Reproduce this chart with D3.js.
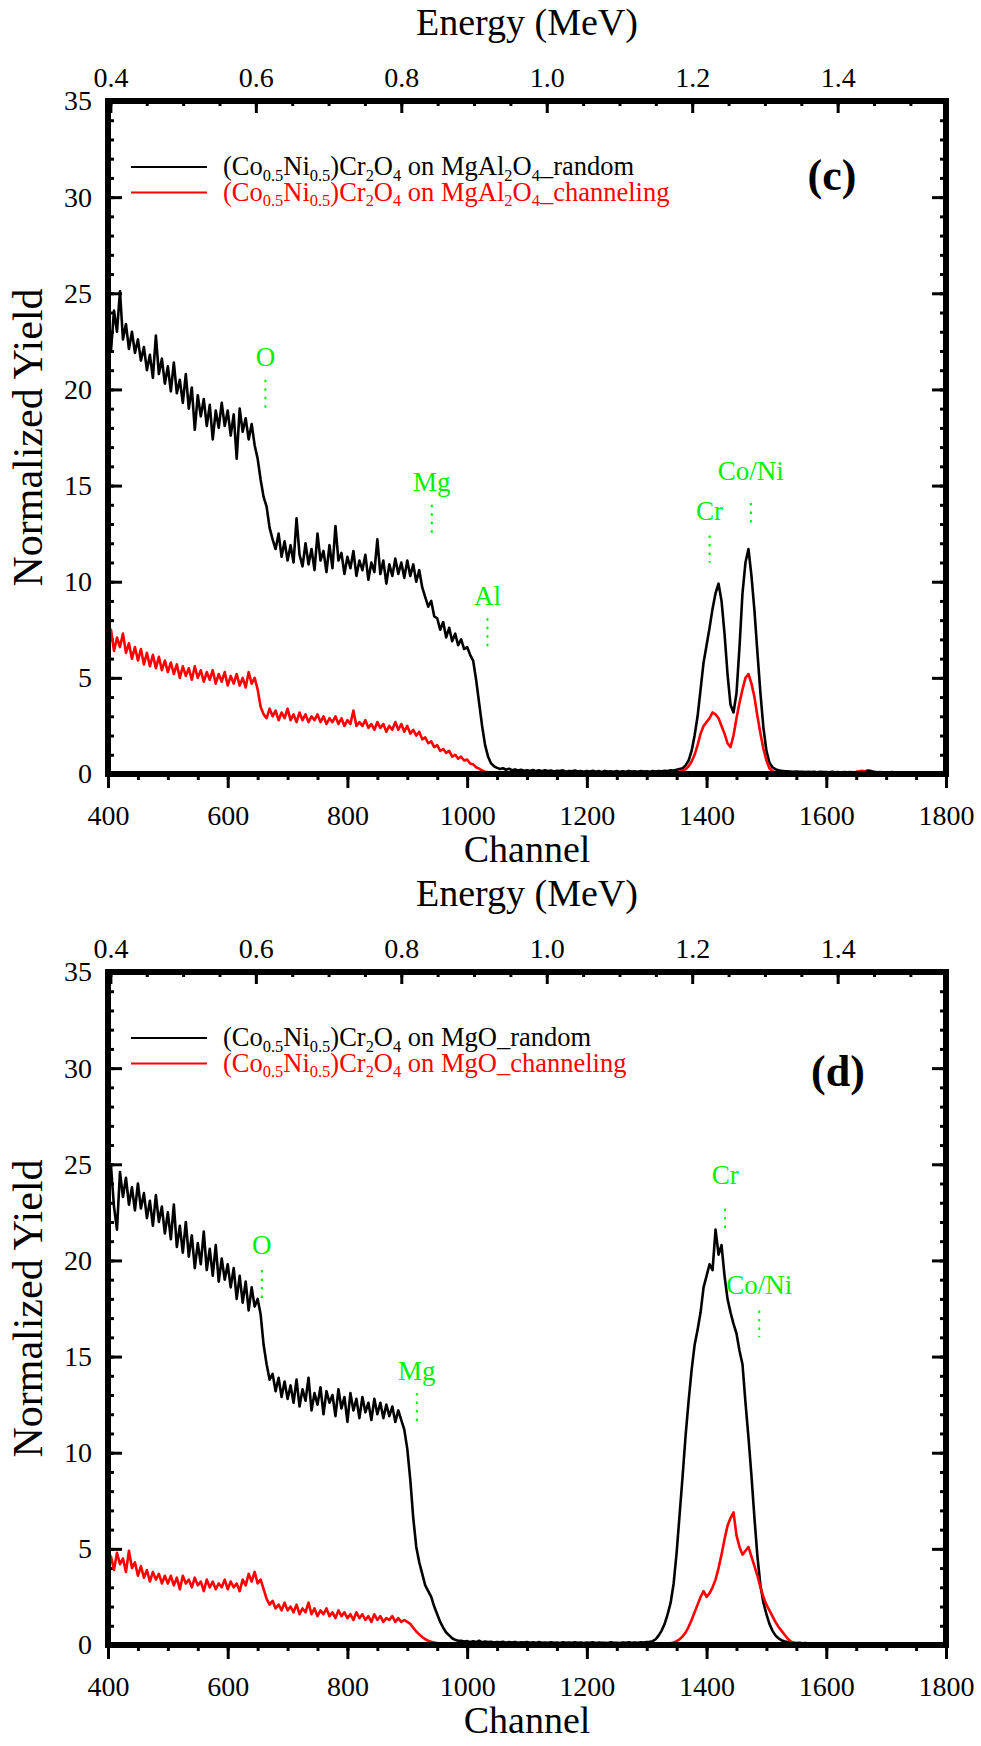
<!DOCTYPE html>
<html>
<head>
<meta charset="utf-8">
<script src="https://cdn.jsdelivr.net/npm/d3@7"></script>
<style>
  body { margin: 0; background: #fff; }
  svg { display: block; }
</style>
</head>
<body>
<div id="chart"></div>
<script>
// channels are sampled every 5 from 400 to 1800
const channelStart = 400, channelStep = 5;

const cRandom = [
  23.2, 22.0, 24.1, 23.0, 25.1, 22.6, 23.4, 22.1, 23.0, 21.9, 22.6, 21.5, 22.2, 21.0, 21.8, 20.6, 22.8, 20.8, 21.6, 20.3,
  21.2, 19.9, 21.4, 19.8, 20.5, 19.3, 20.8, 19.0, 20.1, 17.9, 19.7, 18.6, 19.5, 18.1, 19.2, 17.4, 18.9, 18.0, 19.3, 18.1,
  18.9, 17.6, 18.7, 16.4, 19.0, 17.8, 18.5, 17.4, 18.2, 17.1, 16.4, 15.3, 14.4, 13.9, 12.8, 12.2, 11.7, 12.5, 11.3, 12.1,
  11.1, 11.9, 11.0, 13.3, 11.4, 10.8, 12.0, 10.9, 11.7, 10.6, 12.5, 11.1, 11.6, 10.5, 11.9, 10.7, 12.9, 11.1, 11.5, 10.4,
  11.3, 10.7, 11.6, 10.3, 11.1, 10.6, 11.4, 10.1, 11.0, 10.5, 12.2, 10.4, 11.1, 9.9, 10.9, 10.3, 11.2, 10.4, 11.0, 10.2,
  11.1, 10.3, 10.9, 10.0, 10.6, 9.7, 9.2, 8.7, 9.0, 8.2, 8.1, 7.5, 7.9, 7.1, 7.6, 6.9, 7.3, 6.7, 7.0, 6.5,
  6.6, 6.2, 5.9, 4.9, 3.7, 2.5, 1.5, 0.9, 0.55, 0.4, 0.32, 0.26, 0.3, 0.22, 0.27, 0.2, 0.24, 0.18, 0.22, 0.17,
  0.2, 0.16, 0.21, 0.15, 0.19, 0.14, 0.2, 0.16, 0.18, 0.13, 0.17, 0.15, 0.19, 0.12, 0.16, 0.14, 0.18, 0.13, 0.15, 0.12,
  0.16, 0.13, 0.17, 0.12, 0.15, 0.11, 0.16, 0.13, 0.14, 0.12, 0.15, 0.11, 0.14, 0.12, 0.16, 0.13, 0.14, 0.12, 0.15, 0.13,
  0.14, 0.12, 0.15, 0.13, 0.16, 0.14, 0.17, 0.15, 0.19, 0.18, 0.22, 0.26, 0.3, 0.45, 0.7, 1.2, 2.0, 3.0, 4.4, 5.8,
  6.7, 7.6, 8.6, 9.4, 9.9, 9.0, 7.3, 5.2, 3.6, 3.2, 4.2, 6.6, 9.4, 11.0, 11.7, 10.3, 8.5, 6.3, 4.2, 2.4,
  1.2, 0.6, 0.35, 0.25, 0.2, 0.17, 0.15, 0.14, 0.13, 0.12, 0.13, 0.11, 0.12, 0.1, 0.12, 0.1, 0.11, 0.09, 0.11, 0.1,
  0.1, 0.09, 0.11, 0.09, 0.1, 0.08, 0.1, 0.09, 0.1, 0.08, 0.1, 0.09, 0.11, 0.14, 0.18, 0.15, 0.11, 0.09, 0.1, 0.08,
  0.09, 0.08, 0.1, 0.08, 0.09, 0.07, 0.09, 0.08, 0.09, 0.07, 0.08, 0.07, 0.09, 0.07, 0.08, 0.07, 0.08, 0.06, 0.08, 0.07,
  0.07
];

const cChannel = [
  6.9, 7.5, 6.4, 7.1, 6.6, 7.3, 6.3, 6.8, 6.0, 6.6, 5.9, 6.5, 5.7, 6.3, 5.6, 6.2, 5.5, 6.1, 5.4, 5.9,
  5.3, 5.8, 5.2, 5.7, 5.0, 5.6, 5.1, 5.5, 4.9, 5.6, 5.0, 5.4, 4.8, 5.3, 4.9, 5.4, 4.7, 5.2, 4.8, 5.3,
  4.6, 5.1, 4.7, 5.2, 4.6, 5.0, 4.5, 5.3, 4.7, 5.0, 4.4, 3.5, 3.1, 2.9, 3.4, 3.0, 3.3, 2.8, 3.2, 2.9,
  3.4, 2.8, 3.1, 2.7, 3.2, 2.8, 3.1, 2.7, 3.0, 2.8, 3.1, 2.7, 3.0, 2.6, 2.9, 2.7, 3.0, 2.6, 2.9, 2.5,
  2.8, 2.6, 3.3, 2.5, 2.7, 2.5, 2.8, 2.4, 2.6, 2.3, 2.7, 2.4, 2.6, 2.2, 2.5, 2.3, 2.7, 2.3, 2.6, 2.2,
  2.5, 2.1, 2.3, 2.0, 2.2, 1.8, 1.9, 1.6, 1.7, 1.4, 1.5, 1.2, 1.3, 1.1, 1.2, 0.9, 1.0, 0.8, 0.9, 0.7,
  0.75, 0.55, 0.5, 0.35, 0.28, 0.18, 0.12, 0.09, 0.07, 0.06, 0.07, 0.05, 0.06, 0.05, 0.06, 0.04, 0.05, 0.04, 0.05, 0.04,
  0.05, 0.04, 0.05, 0.03, 0.05, 0.04, 0.05, 0.03, 0.04, 0.04, 0.05, 0.03, 0.04, 0.03, 0.05, 0.04, 0.04, 0.03, 0.04, 0.03,
  0.04, 0.03, 0.05, 0.03, 0.04, 0.03, 0.04, 0.04, 0.05, 0.03, 0.04, 0.03, 0.04, 0.03, 0.05, 0.03, 0.04, 0.03, 0.04, 0.04,
  0.05, 0.04, 0.05, 0.04, 0.06, 0.05, 0.06, 0.05, 0.07, 0.07, 0.09, 0.12, 0.16, 0.25, 0.4, 0.65, 1.0, 1.5, 2.1, 2.5,
  2.7, 2.9, 3.2, 3.1, 2.9, 2.5, 2.1, 1.6, 1.4, 2.0, 2.9, 3.7, 4.4, 5.0, 5.2, 4.7, 4.0, 3.0, 2.1, 1.3,
  0.7, 0.3, 0.15, 0.08, 0.06, 0.05, 0.04, 0.05, 0.03, 0.04, 0.03, 0.04, 0.03, 0.04, 0.03, 0.04, 0.03, 0.04, 0.03, 0.04,
  0.03, 0.04, 0.03, 0.04, 0.03, 0.05, 0.04, 0.06, 0.05, 0.07, 0.1, 0.14, 0.17, 0.12, 0.08, 0.06, 0.05, 0.04, 0.04, 0.03,
  0.04, 0.03, 0.04, 0.03, 0.04, 0.03, 0.04, 0.03, 0.04, 0.03, 0.04, 0.03, 0.04, 0.03, 0.04, 0.03, 0.03, 0.04, 0.03, 0.03,
  0.03
];

const dRandom = [
  24.0, 24.9, 22.8, 21.6, 24.6, 23.3, 24.3, 22.9, 23.8, 22.6, 24.0, 22.7, 23.5, 22.2, 23.1, 21.8, 23.4, 22.0, 22.8, 21.4,
  22.5, 21.1, 22.9, 20.7, 21.8, 20.4, 22.0, 20.2, 21.3, 19.6, 20.9, 19.8, 21.5, 19.5, 20.6, 19.2, 20.8, 18.9, 20.1, 19.0,
  19.8, 18.6, 19.6, 18.0, 19.2, 17.8, 18.9, 17.4, 18.6, 17.6, 18.0, 17.2, 15.6, 14.6, 13.8, 14.1, 13.2, 13.9, 12.9, 13.7,
  12.8, 13.5, 12.6, 13.8, 12.4, 13.3, 12.7, 13.9, 12.2, 13.1, 12.5, 13.4, 12.0, 13.2, 12.6, 13.0, 11.9, 13.3, 12.3, 12.9,
  11.6, 13.1, 12.2, 12.8, 11.8, 12.9, 12.1, 12.6, 11.7, 12.8, 12.0, 12.6, 11.8, 12.5, 11.9, 12.4, 11.6, 12.2, 11.7, 11.2,
  10.2, 8.6, 6.6, 5.1, 4.3, 3.7, 3.1, 2.8, 2.5, 2.0, 1.6, 1.2, 0.9, 0.65, 0.5, 0.35, 0.27, 0.22, 0.22, 0.18,
  0.2, 0.16, 0.19, 0.15, 0.22, 0.14, 0.18, 0.15, 0.17, 0.13, 0.16, 0.14, 0.17, 0.12, 0.15, 0.13, 0.16, 0.12, 0.14, 0.13,
  0.15, 0.12, 0.14, 0.11, 0.15, 0.12, 0.13, 0.11, 0.14, 0.12, 0.13, 0.1, 0.14, 0.11, 0.13, 0.12, 0.14, 0.11, 0.13, 0.1,
  0.13, 0.11, 0.14, 0.1, 0.13, 0.11, 0.12, 0.1, 0.14, 0.11, 0.12, 0.1, 0.13, 0.11, 0.14, 0.12, 0.13, 0.12, 0.14, 0.13,
  0.15, 0.17, 0.2, 0.3, 0.5, 0.75, 1.1, 1.6, 2.2, 3.2, 4.8, 6.8, 8.8, 10.9, 12.7, 14.3, 15.6, 16.4, 17.3, 18.6,
  19.2, 19.8, 19.5, 21.6, 20.3, 20.8, 19.2, 18.0, 17.3, 16.7, 16.2, 15.3, 14.6, 12.6, 10.8, 8.8, 6.6, 4.6, 3.1, 2.2,
  1.6, 1.1, 0.75, 0.5, 0.35, 0.25, 0.2, 0.16, 0.13, 0.12, 0.1, 0.11, 0.09, 0.1, 0.08, 0.09, 0.08, 0.09, 0.07, 0.08,
  0.08, 0.07, 0.09, 0.07, 0.08, 0.06, 0.08, 0.07, 0.08, 0.06, 0.07, 0.06, 0.08, 0.06, 0.07, 0.06, 0.07, 0.06, 0.07, 0.05,
  0.07, 0.05, 0.06, 0.05, 0.07, 0.05, 0.06, 0.05, 0.06, 0.05, 0.06, 0.04, 0.06, 0.05, 0.06, 0.04, 0.05, 0.04, 0.05, 0.04,
  0.05
];

const dChannel = [
  4.1, 4.6, 3.9, 4.8, 4.2, 4.5, 3.8, 4.9, 4.0, 4.3, 3.6, 4.1, 3.5, 3.9, 3.3, 3.8, 3.4, 3.7, 3.2, 3.6,
  3.2, 3.6, 3.1, 3.5, 2.9, 3.6, 3.2, 3.4, 3.0, 3.5, 3.1, 3.3, 2.8, 3.4, 3.0, 3.3, 2.9, 3.2, 3.0, 3.4,
  2.9, 3.3, 3.0, 3.2, 2.8, 3.4, 3.1, 3.7, 3.3, 3.8, 3.2, 3.4, 2.9, 2.4, 2.1, 2.3, 1.9, 2.1, 1.8, 2.2,
  1.8, 2.0, 1.7, 2.1, 1.6, 1.9, 1.7, 2.2, 1.6, 1.9, 1.5, 1.8, 1.6, 1.9, 1.5, 1.7, 1.4, 1.8, 1.5, 1.7,
  1.4, 1.6, 1.3, 1.7, 1.4, 1.6, 1.3, 1.5, 1.2, 1.6, 1.3, 1.5, 1.2, 1.4, 1.3, 1.5, 1.2, 1.4, 1.2, 1.3,
  1.2, 1.1, 0.9, 0.7, 0.55, 0.42, 0.3, 0.22, 0.17, 0.13, 0.1, 0.09, 0.07, 0.06, 0.07, 0.05, 0.06, 0.05, 0.06, 0.04,
  0.05, 0.04, 0.05, 0.04, 0.05, 0.03, 0.05, 0.04, 0.04, 0.03, 0.05, 0.03, 0.04, 0.03, 0.04, 0.03, 0.04, 0.03, 0.04, 0.03,
  0.04, 0.03, 0.04, 0.03, 0.05, 0.03, 0.04, 0.03, 0.04, 0.03, 0.04, 0.03, 0.04, 0.03, 0.05, 0.04, 0.06, 0.05, 0.04, 0.03,
  0.04, 0.03, 0.04, 0.03, 0.04, 0.03, 0.04, 0.03, 0.04, 0.03, 0.04, 0.03, 0.04, 0.03, 0.04, 0.03, 0.04, 0.03, 0.04, 0.03,
  0.04, 0.03, 0.04, 0.04, 0.05, 0.05, 0.06, 0.07, 0.09, 0.13, 0.2, 0.3, 0.45, 0.65, 0.95, 1.3, 1.7, 2.1, 2.5, 2.8,
  2.5, 2.7, 3.0, 3.4, 4.0, 4.7, 5.5, 6.2, 6.6, 6.9, 5.7, 5.1, 4.7, 4.9, 5.1, 4.6, 4.1, 3.6, 3.0, 2.5,
  2.1, 1.8, 1.5, 1.2, 0.95, 0.75, 0.55, 0.35, 0.2, 0.12, 0.08, 0.06, 0.05, 0.04, 0.05, 0.04, 0.03, 0.04, 0.03, 0.04,
  0.03, 0.04, 0.03, 0.04, 0.03, 0.04, 0.03, 0.04, 0.03, 0.04, 0.03, 0.04, 0.03, 0.04, 0.03, 0.04, 0.03, 0.04, 0.03, 0.04,
  0.03, 0.04, 0.03, 0.04, 0.03, 0.04, 0.03, 0.04, 0.03, 0.04, 0.03, 0.04, 0.03, 0.04, 0.03, 0.04, 0.03, 0.04, 0.03, 0.04,
  0.03
];

// element markers (channel, label height, dotted segment) in data units
const cMarkNames = ["O", "Mg", "Al", "Cr", "Co/Ni"];
const cMarkChannels = [663, 941, 1034, 1405, 1474];
const cMarkText = [21.2, 14.7, 8.8, 13.2, 15.3];
const cMarkDotTop = [20.5, 14.0, 8.1, 12.4, 14.1];
const cMarkDotBottom = [19.0, 12.5, 6.6, 11.0, 13.0];

const dMarkNames = ["O", "Mg", "Cr", "Co/Ni"];
const dMarkChannels = [657, 916, 1431, 1488];
const dMarkText = [20.35, 13.8, 23.96, 18.25];
const dMarkDotTop = [19.5, 13.1, 22.7, 17.4];
const dMarkDotBottom = [18.0, 11.6, 21.6, 16.0];

const channelTicks = [400, 600, 800, 1000, 1200, 1400, 1600, 1800];
const energyTicks = [0.4, 0.6, 0.8, 1.0, 1.2, 1.4];
const yieldTicks = [0, 5, 10, 15, 20, 25, 30, 35];

// energy calibration: 0.4 MeV near channel 404, 1215 channels per MeV
const energyAt = ch => 0.4 + (ch - 404) / 1215;

const cLegend = ["(Co~{0.5}Ni~{0.5})Cr~{2}O~{4} on MgAl~{2}O~{4}_random",
                 "(Co~{0.5}Ni~{0.5})Cr~{2}O~{4} on MgAl~{2}O~{4}_channeling"];
const dLegend = ["(Co~{0.5}Ni~{0.5})Cr~{2}O~{4} on MgO_random",
                 "(Co~{0.5}Ni~{0.5})Cr~{2}O~{4} on MgO_channeling"];

const panels = [
  {top: 101, random: cRandom, channeling: cChannel, legend: cLegend, tag: "(c)", tagX: 832, tagDy: 89,
   marks: {names: cMarkNames, ch: cMarkChannels, text: cMarkText, top: cMarkDotTop, bottom: cMarkDotBottom}},
  {top: 972, random: dRandom, channeling: dChannel, legend: dLegend, tag: "(d)", tagX: 838, tagDy: 114,
   marks: {names: dMarkNames, ch: dMarkChannels, text: dMarkText, top: dMarkDotTop, bottom: dMarkDotBottom}}
];

const W = 981, H = 1746;
const left = 108, right = 946, plotH = 673;
const green = "#00f000";
const serif = '"Liberation Serif", "Times New Roman", Times, serif';

const svg = d3.select("#chart").append("svg")
  .attr("width", W).attr("height", H)
  .attr("viewBox", `0 0 ${W} ${H}`)
  .style("font-family", serif);

const x = d3.scaleLinear().domain([400, 1800]).range([left, right]);
const xE = d3.scaleLinear().domain([energyAt(400), energyAt(1800)]).range([left, right]);

function styleAxis(g, fontSize) {
  g.attr("font-family", null).attr("font-size", null);
  g.select(".domain").remove();
  g.selectAll(".tick line").attr("stroke", "#000").attr("stroke-width", 3);
  g.selectAll("text").attr("fill", "#000")
    .style("font-family", serif).style("font-size", fontSize + "px");
}

function addRich(textSel, str, size) {
  const parts = str.split(/(~\{[^}]*\})/).filter(s => s.length);
  let shifted = false;
  parts.forEach(p => {
    const sub = p.startsWith("~{");
    const t = textSel.append("tspan").text(sub ? p.slice(2, -1) : p);
    if (sub) {
      t.style("font-size", (size * 0.62) + "px");
      if (!shifted) { t.attr("dy", size * 0.22); shifted = true; }
    } else if (shifted) {
      t.attr("dy", -size * 0.22); shifted = false;
    }
  });
}

function label(g, px, py, str, size, anchor) {
  return g.append("text").attr("x", px).attr("y", py)
    .attr("text-anchor", anchor || "middle")
    .style("font-family", serif).style("font-size", size + "px")
    .text(str);
}

panels.forEach(p => {
  const top = p.top, bottom = top + plotH;
  const y = d3.scaleLinear().domain([0, 35]).range([bottom, top]);
  const g = svg.append("g");

  // minor ticks
  g.append("g").attr("transform", `translate(0,${bottom})`)
    .call(d3.axisBottom(x).tickValues(d3.range(400, 1801, 50)).tickSize(6).tickFormat(""))
    .call(a => styleAxis(a, 28));
  g.append("g").attr("transform", `translate(0,${top})`)
    .call(d3.axisTop(xE).tickValues(d3.range(0.4, 1.56, 0.05)).tickSizeInner(-5).tickFormat(""))
    .call(a => styleAxis(a, 28));
  g.append("g").attr("transform", `translate(${left},0)`)
    .call(d3.axisLeft(y).tickValues(d3.range(0, 36, 1)).tickSizeInner(-6).tickFormat(""))
    .call(a => styleAxis(a, 28));
  g.append("g").attr("transform", `translate(${right},0)`)
    .call(d3.axisRight(y).tickValues(d3.range(0, 36, 1)).tickSizeInner(-6).tickFormat(""))
    .call(a => styleAxis(a, 28));

  // major ticks + labels
  g.append("g").attr("transform", `translate(0,${bottom})`)
    .call(d3.axisBottom(x).tickValues(channelTicks).tickSize(14).tickPadding(17).tickFormat(d3.format("d")))
    .call(a => styleAxis(a, 28));
  g.append("g").attr("transform", `translate(0,${top})`)
    .call(d3.axisTop(xE).tickValues(energyTicks).tickSizeInner(-12).tickPadding(14).tickFormat(d3.format(".1f")))
    .call(a => styleAxis(a, 28));
  g.append("g").attr("transform", `translate(${left},0)`)
    .call(d3.axisLeft(y).tickValues(yieldTicks).tickSizeInner(-14).tickPadding(16).tickFormat(d3.format("d")))
    .call(a => styleAxis(a, 28));
  g.append("g").attr("transform", `translate(${right},0)`)
    .call(d3.axisRight(y).tickValues(yieldTicks).tickSizeInner(-14).tickFormat(""))
    .call(a => styleAxis(a, 28));

  // curves
  const line = d3.line()
    .x((d, i) => x(channelStart + i * channelStep))
    .y(d => y(d));
  g.append("path").datum(p.random).attr("d", line)
    .attr("fill", "none").attr("stroke", "#000").attr("stroke-width", 2.6).attr("stroke-linejoin", "round");
  g.append("path").datum(p.channeling).attr("d", line)
    .attr("fill", "none").attr("stroke", "#ff0000").attr("stroke-width", 2.6).attr("stroke-linejoin", "round");

  // frame
  g.append("rect").attr("x", left).attr("y", top)
    .attr("width", right - left).attr("height", plotH)
    .attr("fill", "none").attr("stroke", "#000").attr("stroke-width", 6);

  // element markers
  const m = p.marks;
  m.names.forEach((name, i) => {
    label(g, x(m.ch[i]), y(m.text[i]), name, 27).attr("fill", green);
    g.append("line").attr("x1", x(m.ch[i])).attr("x2", x(m.ch[i]))
      .attr("y1", y(m.top[i])).attr("y2", y(m.bottom[i]))
      .attr("stroke", green).attr("stroke-width", 2).attr("stroke-dasharray", "2.5,6");
  });

  // legend
  const colors = ["#000", "#ff0000"];
  p.legend.forEach((txt, i) => {
    const ly = top + 66 + i * 25.5;
    g.append("line").attr("x1", 131).attr("x2", 207).attr("y1", ly).attr("y2", ly)
      .attr("stroke", colors[i]).attr("stroke-width", 1.8);
    const t = g.append("text").attr("x", 223).attr("y", ly + 8)
      .style("font-family", serif).style("font-size", "26.5px").attr("fill", colors[i]);
    addRich(t, txt, 26.5);
  });

  // panel tag
  label(g, p.tagX, top + p.tagDy, p.tag, 44).attr("font-weight", "bold");

  // axis titles
  label(g, (left + right) / 2, top - 66, "Energy (MeV)", 38);
  label(g, (left + right) / 2, bottom + 88, "Channel", 38);
  g.append("text").attr("transform", `translate(42,${(top + bottom) / 2}) rotate(-90)`)
    .attr("text-anchor", "middle")
    .style("font-family", serif).style("font-size", "42px")
    .text("Normalized Yield");
});
</script>
</body>
</html>
